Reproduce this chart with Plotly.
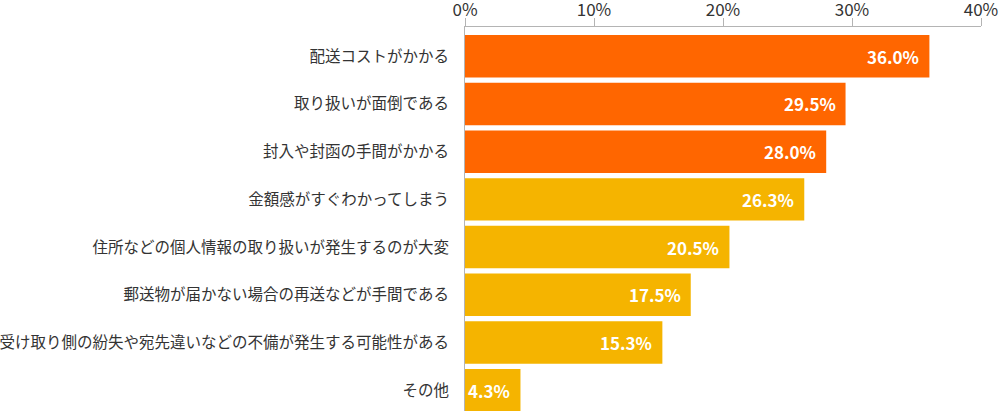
import plotly.graph_objects as go

# 回答項目（上から順）
categories = [
    "配送コストがかかる",
    "取り扱いが面倒である",
    "封入や封函の手間がかかる",
    "金額感がすぐわかってしまう",
    "住所などの個人情報の取り扱いが発生するのが大変",
    "郵送物が届かない場合の再送などが手間である",
    "受け取り側の紛失や宛先違いなどの不備が発生する可能性がある",
    "その他",
]
values = [36.0, 29.5, 28.0, 26.3, 20.5, 17.5, 15.3, 4.3]
labels = [f"{v:.1f}%" for v in values]
tick_vals = [0, 10, 20, 30, 40]
tick_text = ["0%", "10%", "20%", "30%", "40%"]

ORANGE = "#FF6600"
YELLOW = "#F5B400"
colors = [ORANGE] * 3 + [YELLOW] * 5

FONT = "Noto Sans CJK JP"
AXIS_GRAY = "#B4B4B4"

fig = go.Figure()
fig.add_trace(go.Bar(
    x=values,
    y=categories,
    orientation="h",
    marker=dict(color=colors, line=dict(width=0)),
    hoverinfo="skip",
))

# 数値ラベル（バーの右端内側）
for cat, val, lab in zip(categories, values, labels):
    fig.add_annotation(
        x=val, y=cat, text=lab,
        xanchor="right", yanchor="middle",
        xshift=-8, showarrow=False,
        font=dict(color="white", size=17, family=FONT, weight="bold"),
    )

fig.update_layout(
    width=1002, height=411,
    margin=dict(l=465, r=21, t=27, b=0),
    paper_bgcolor="white",
    plot_bgcolor="white",
    showlegend=False,
    bargap=0.11,
    font=dict(family=FONT, color="#333333", size=15),
)
fig.update_xaxes(
    side="top",
    range=[0, 40],
    tickvals=tick_vals,
    ticktext=tick_text,
    tickfont=dict(size=17, color="#333333"),
    ticklabelstandoff=-5,
    showgrid=False,
    zeroline=False,
    showline=True,
    linecolor=AXIS_GRAY,
    linewidth=1,
    ticks="outside",
    ticklen=8,
    tickcolor=AXIS_GRAY,
    tickwidth=1,
    automargin=False,
)
fig.update_yaxes(
    range=[7.436, -0.614],
    showgrid=False,
    showline=True,
    linecolor=AXIS_GRAY,
    linewidth=1,
    ticks="",
    ticklabelstandoff=12,
    tickfont=dict(size=15.5, color="#333333"),
    automargin=False,
)

# ページ本体の既定余白を消して図を左上に寄せる
fig.write_html(
    "out.html",
    config={"displayModeBar": False},
    post_script="document.body.style.margin='0';",
)
